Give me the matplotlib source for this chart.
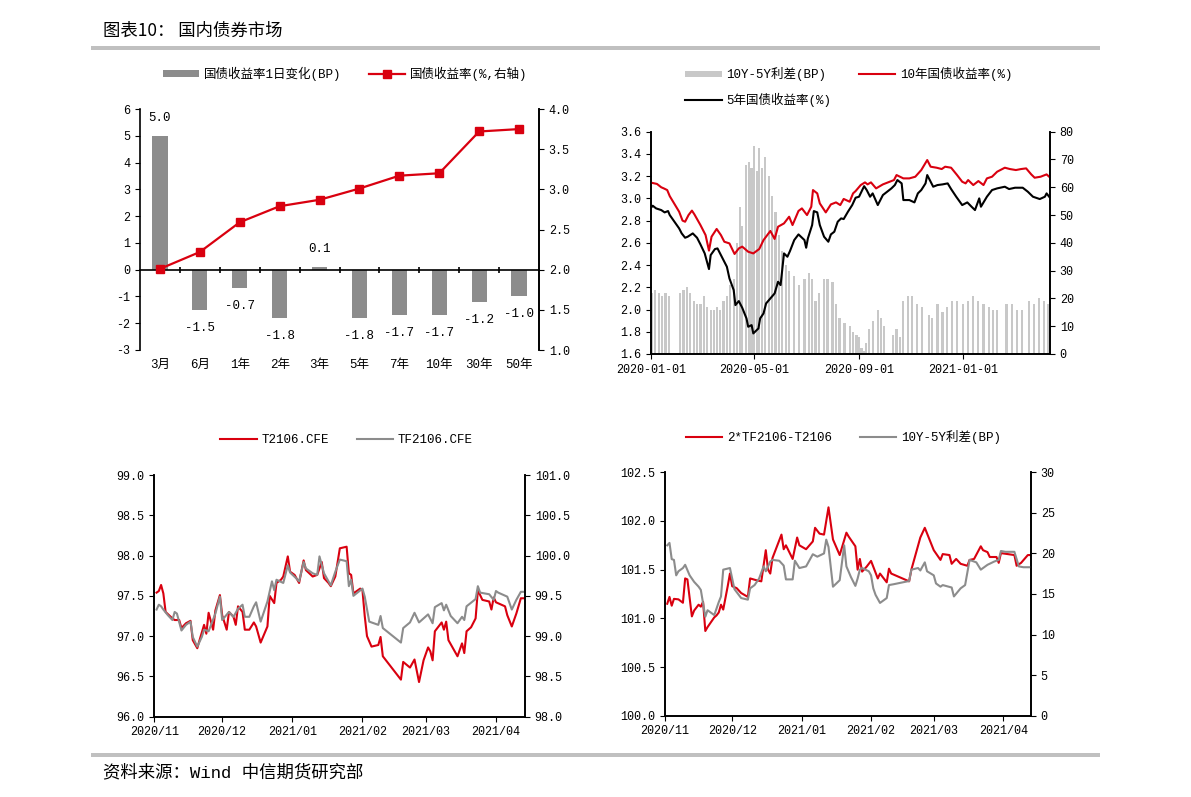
import numpy as np
import pandas as pd
import matplotlib
matplotlib.use('Agg')
import matplotlib.pyplot as plt
import matplotlib.dates as mdates
from matplotlib.patches import Rectangle

plt.rcParams['font.family'] = ['Liberation Mono', 'Noto Sans CJK SC']
plt.rcParams['axes.unicode_minus'] = False
plt.rcParams['font.size'] = 8.5
plt.rcParams['axes.linewidth'] = 1.2
plt.rcParams['xtick.major.size'] = 3.5
plt.rcParams['ytick.major.size'] = 3.5

RED = '#d9000f'
GRAY = '#8c8c8c'
LGRAY = '#c8c8c8'

# ---- chart 1: yield curve ----
tenors = ['3月', '6月', '1年', '2年', '3年', '5年', '7年', '10年', '30年', '50年']
chg_bp = [5.0, -1.5, -0.7, -1.8, 0.1, -1.8, -1.7, -1.7, -1.2, -1.0]
yld = [2.01, 2.22, 2.59, 2.79, 2.87, 3.01, 3.17, 3.20, 3.72, 3.75]

# ---- chart 2: 10Y / 5Y yields and spread ----
y10_dates = ['2020-01-02', '2020-01-08', '2020-01-13', '2020-01-16', '2020-01-20', '2020-01-23',
             '2020-02-03', '2020-02-07', '2020-02-10', '2020-02-14', '2020-02-18', '2020-02-21', '2020-02-28',
             '2020-03-05', '2020-03-09', '2020-03-12', '2020-03-18', '2020-03-23', '2020-03-27',
             '2020-04-02', '2020-04-08', '2020-04-13', '2020-04-17', '2020-04-24', '2020-04-30',
             '2020-05-07', '2020-05-12', '2020-05-20', '2020-05-25', '2020-05-29',
             '2020-06-05', '2020-06-11', '2020-06-15', '2020-06-22', '2020-06-26',
             '2020-07-02', '2020-07-07', '2020-07-09', '2020-07-14', '2020-07-17', '2020-07-24', '2020-07-30',
             '2020-08-05', '2020-08-10', '2020-08-14', '2020-08-21', '2020-08-25', '2020-08-28',
             '2020-09-03', '2020-09-08', '2020-09-11', '2020-09-15', '2020-09-21', '2020-09-29',
             '2020-10-12', '2020-10-15', '2020-10-19', '2020-10-23', '2020-10-30',
             '2020-11-06', '2020-11-13', '2020-11-20', '2020-11-24',
             '2020-12-01', '2020-12-07', '2020-12-11', '2020-12-18', '2020-12-25', '2020-12-31',
             '2021-01-04', '2021-01-07', '2021-01-13', '2021-01-19', '2021-01-25', '2021-01-29',
             '2021-02-04', '2021-02-10', '2021-02-19', '2021-02-25',
             '2021-03-04', '2021-03-10', '2021-03-16', '2021-03-22', '2021-03-26',
             '2021-04-02', '2021-04-09', '2021-04-12']
y10 = [3.14, 3.13, 3.10, 3.09, 3.075, 3.02,
       2.88, 2.80, 2.79, 2.85, 2.89, 2.855, 2.76,
       2.67, 2.53, 2.655, 2.725, 2.67, 2.61,
       2.595, 2.50, 2.55, 2.566, 2.52, 2.505,
       2.545, 2.625, 2.707, 2.635, 2.745,
       2.775, 2.835, 2.76, 2.887, 2.91,
       2.85, 2.925, 3.075, 3.045, 2.955, 2.874, 2.946,
       2.964, 2.94, 2.995, 2.97, 3.045, 3.066,
       3.12, 3.144, 3.126, 3.144, 3.09, 3.126,
       3.165, 3.21, 3.195, 3.18, 3.18,
       3.195, 3.255, 3.345, 3.285,
       3.276, 3.264, 3.285, 3.276, 3.21, 3.15,
       3.135, 3.165, 3.12, 3.156, 3.12, 3.18,
       3.195, 3.24, 3.276, 3.264,
       3.255, 3.264, 3.27, 3.216, 3.186,
       3.195, 3.216, 3.195]

y5_dates = ['2020-01-02', '2020-01-03', '2020-01-07', '2020-01-13', '2020-01-17', '2020-01-21', '2020-01-23',
            '2020-02-03', '2020-02-06', '2020-02-10', '2020-02-13', '2020-02-19', '2020-02-24', '2020-02-28',
            '2020-03-04', '2020-03-09', '2020-03-11', '2020-03-16', '2020-03-19', '2020-03-24', '2020-03-30',
            '2020-04-02', '2020-04-07', '2020-04-09', '2020-04-13', '2020-04-17', '2020-04-22', '2020-04-24',
            '2020-04-28', '2020-04-30',
            '2020-05-06', '2020-05-08', '2020-05-12', '2020-05-15', '2020-05-20', '2020-05-25', '2020-05-29',
            '2020-06-01', '2020-06-05', '2020-06-09', '2020-06-12', '2020-06-17', '2020-06-22', '2020-06-29',
            '2020-07-01', '2020-07-03', '2020-07-08', '2020-07-10', '2020-07-14', '2020-07-17', '2020-07-22',
            '2020-07-27', '2020-07-30',
            '2020-08-03', '2020-08-07', '2020-08-11', '2020-08-14', '2020-08-19', '2020-08-24', '2020-08-28',
            '2020-09-01', '2020-09-07', '2020-09-10', '2020-09-14', '2020-09-17', '2020-09-23', '2020-09-29',
            '2020-10-09', '2020-10-13', '2020-10-16', '2020-10-21', '2020-10-23', '2020-10-30',
            '2020-11-05', '2020-11-09', '2020-11-13', '2020-11-18', '2020-11-20', '2020-11-24', '2020-11-27',
            '2020-12-02', '2020-12-08', '2020-12-14', '2020-12-18', '2020-12-24', '2020-12-31',
            '2021-01-06', '2021-01-11', '2021-01-15', '2021-01-20', '2021-01-22', '2021-01-29',
            '2021-02-04', '2021-02-10', '2021-02-19', '2021-02-24',
            '2021-03-03', '2021-03-12', '2021-03-18', '2021-03-24',
            '2021-04-01', '2021-04-07', '2021-04-09', '2021-04-12']
y5 = [2.925, 2.934, 2.91, 2.895, 2.874, 2.886, 2.85,
      2.73, 2.685, 2.646, 2.655, 2.685, 2.646, 2.586,
      2.505, 2.364, 2.49, 2.544, 2.55, 2.475, 2.385,
      2.28, 2.175, 2.04, 2.076, 2.016, 1.92, 1.845, 1.86, 1.785,
      1.83, 1.92, 1.965, 2.055, 2.10, 2.145, 2.25,
      2.22, 2.505, 2.475, 2.526, 2.625, 2.676, 2.625,
      2.556, 2.64, 2.76, 2.886, 2.874, 2.76, 2.655, 2.61, 2.676,
      2.70, 2.79, 2.82, 2.814, 2.88, 2.94, 3.006,
      3.015, 3.11, 3.075, 3.015, 3.045, 2.94, 3.03,
      3.09, 3.12, 3.165, 3.135, 2.985, 2.985,
      2.964, 3.045, 3.075, 3.135, 3.21, 3.15, 3.105,
      3.12, 3.126, 3.135, 3.084, 3.015, 2.94,
      2.964, 2.925, 2.895, 3.0, 2.925, 3.015,
      3.075, 3.09, 3.105, 3.084,
      3.096, 3.096, 3.06, 3.015,
      2.994, 3.015, 3.045, 3.015]

spread_dates = ['2020-01-02', '2020-01-06', '2020-01-10', '2020-01-14', '2020-01-18', '2020-01-22',
                '2020-02-04', '2020-02-08', '2020-02-12', '2020-02-16', '2020-02-20', '2020-02-24', '2020-02-28',
                '2020-03-03', '2020-03-07', '2020-03-11', '2020-03-15', '2020-03-18', '2020-03-22', '2020-03-26',
                '2020-03-30', '2020-04-03', '2020-04-07', '2020-04-11', '2020-04-14', '2020-04-17', '2020-04-21',
                '2020-04-25', '2020-04-28', '2020-05-01', '2020-05-04', '2020-05-07', '2020-05-10', '2020-05-14',
                '2020-05-18', '2020-05-22', '2020-05-26', '2020-05-30', '2020-06-03', '2020-06-07', '2020-06-11',
                '2020-06-17', '2020-06-23', '2020-06-29', '2020-07-04', '2020-07-08', '2020-07-12', '2020-07-16',
                '2020-07-22', '2020-07-26', '2020-08-01', '2020-08-05', '2020-08-09', '2020-08-15', '2020-08-21',
                '2020-08-25', '2020-08-29', '2020-09-01', '2020-09-04', '2020-09-07', '2020-09-09', '2020-09-13',
                '2020-09-17', '2020-09-23', '2020-09-27', '2020-09-30', '2020-10-11', '2020-10-15', '2020-10-19',
                '2020-10-23', '2020-10-28', '2020-11-02', '2020-11-08', '2020-11-14', '2020-11-22', '2020-11-26',
                '2020-12-02', '2020-12-08', '2020-12-13', '2020-12-19', '2020-12-25', '2021-01-01', '2021-01-07',
                '2021-01-13', '2021-01-19', '2021-01-25', '2021-01-31', '2021-02-05', '2021-02-10', '2021-02-21',
                '2021-02-27', '2021-03-05', '2021-03-11', '2021-03-19', '2021-03-25', '2021-03-31', '2021-04-06',
                '2021-04-11']
spread_bp = [22, 23, 22, 21, 22, 21,
             22, 23, 24, 22, 19, 18, 18,
             21, 17, 16, 16, 17, 16, 19, 21,
             25, 27, 40, 53, 46, 68, 69, 67,
             75, 66, 74, 67, 71, 64, 57, 51, 43,
             37, 32, 30, 28, 25, 27,
             29, 27, 19, 22, 27, 27,
             26, 18, 13, 11, 10, 8, 7,
             6, 2, 1, 4, 9, 12, 16, 13, 10,
             7, 9, 6, 19, 21,
             21, 18, 17, 14, 13,
             18, 15, 17, 19, 19,
             18, 19, 21, 19, 18, 17,
             16, 16,
             18, 18, 16, 16, 19, 18, 20, 19, 18]
top_ticks = ['2020-01-01', '2020-05-01', '2020-09-01', '2021-01-01']

# ---- chart 3: T2106 / TF2106 ----
t_dates = ['2020-11-02', '2020-11-03', '2020-11-04', '2020-11-05', '2020-11-06', '2020-11-09', '2020-11-10',
           '2020-11-12', '2020-11-13', '2020-11-15', '2020-11-17', '2020-11-18', '2020-11-20', '2020-11-21',
           '2020-11-23', '2020-11-24', '2020-11-25', '2020-11-27', '2020-11-28', '2020-11-30',
           '2020-12-01', '2020-12-03', '2020-12-04', '2020-12-06', '2020-12-07', '2020-12-08', '2020-12-10',
           '2020-12-11', '2020-12-13', '2020-12-15', '2020-12-16', '2020-12-18', '2020-12-21', '2020-12-22',
           '2020-12-24', '2020-12-25', '2020-12-27', '2020-12-28', '2020-12-30', '2020-12-31',
           '2021-01-02', '2021-01-04', '2021-01-06', '2021-01-07', '2021-01-10', '2021-01-12', '2021-01-14',
           '2021-01-15', '2021-01-17', '2021-01-18', '2021-01-20', '2021-01-22', '2021-01-25', '2021-01-26',
           '2021-01-27', '2021-01-28', '2021-01-31', '2021-02-01', '2021-02-02', '2021-02-03',
           '2021-02-05', '2021-02-08', '2021-02-09', '2021-02-10', '2021-02-18', '2021-02-19', '2021-02-22',
           '2021-02-24', '2021-02-26', '2021-02-28', '2021-03-02', '2021-03-03', '2021-03-04', '2021-03-05',
           '2021-03-08', '2021-03-09', '2021-03-10', '2021-03-11', '2021-03-13', '2021-03-15',
           '2021-03-17', '2021-03-18', '2021-03-19', '2021-03-21', '2021-03-23', '2021-03-24', '2021-03-26',
           '2021-03-29', '2021-03-30', '2021-03-31', '2021-04-01', '2021-04-05', '2021-04-06', '2021-04-08',
           '2021-04-10', '2021-04-12', '2021-04-13']
t2106 = [97.54, 97.56, 97.635, 97.53, 97.30, 97.22, 97.20, 97.20, 97.10, 97.16,
         97.19, 96.95, 96.85, 96.95, 97.14, 97.03, 97.29, 97.08, 97.32, 97.51,
         97.26, 97.08, 97.30, 97.24, 97.14, 97.37, 97.30, 97.08, 97.08, 97.17,
         97.12, 96.92, 97.12, 97.50, 97.41, 97.66, 97.70, 97.74, 97.99, 97.80,
         97.76, 97.66, 97.94, 97.82, 97.74, 97.76, 97.92, 97.72, 97.66, 97.62,
         97.74, 98.09, 98.11, 97.78, 97.76, 97.53, 97.59, 97.57, 97.25, 97.00,
         96.87, 96.89, 96.99, 96.75, 96.46, 96.68, 96.61, 96.71, 96.43, 96.70,
         96.86, 96.81, 96.70, 97.06, 97.17, 97.08, 97.18, 96.95, 96.85, 96.75,
         96.91, 96.79, 97.06, 97.11, 97.22, 97.57, 97.45, 97.43, 97.33, 97.48,
         97.42, 97.37, 97.26, 97.12, 97.28, 97.47, 97.47]

tf_dates = ['2020-11-02', '2020-11-03', '2020-11-04', '2020-11-05', '2020-11-07', '2020-11-09', '2020-11-10',
            '2020-11-11', '2020-11-13', '2020-11-15', '2020-11-17', '2020-11-18', '2020-11-20', '2020-11-22',
            '2020-11-23', '2020-11-25', '2020-11-28', '2020-11-30', '2020-12-01', '2020-12-04',
            '2020-12-06', '2020-12-08', '2020-12-10', '2020-12-11', '2020-12-13', '2020-12-15', '2020-12-16',
            '2020-12-18', '2020-12-21', '2020-12-23', '2020-12-24', '2020-12-25', '2020-12-28', '2020-12-30',
            '2020-12-31', '2021-01-03', '2021-01-04', '2021-01-06', '2021-01-07', '2021-01-10',
            '2021-01-12', '2021-01-13', '2021-01-15', '2021-01-18', '2021-01-20', '2021-01-22', '2021-01-25',
            '2021-01-26', '2021-01-27', '2021-01-28', '2021-02-01', '2021-02-02', '2021-02-04', '2021-02-08',
            '2021-02-09', '2021-02-10', '2021-02-18', '2021-02-19', '2021-02-22', '2021-02-24',
            '2021-02-26', '2021-03-02', '2021-03-04', '2021-03-05', '2021-03-08', '2021-03-09', '2021-03-10',
            '2021-03-12', '2021-03-15', '2021-03-17', '2021-03-18', '2021-03-19', '2021-03-23', '2021-03-24',
            '2021-03-25', '2021-03-29', '2021-03-31', '2021-04-01', '2021-04-02', '2021-04-06',
            '2021-04-08', '2021-04-10', '2021-04-12', '2021-04-13']
tf2106 = [99.33, 99.39, 99.37, 99.33, 99.26, 99.20, 99.30, 99.28, 99.07, 99.14,
          99.18, 98.99, 98.87, 98.99, 99.08, 99.06, 99.28, 99.49, 99.20, 99.30,
          99.24, 99.34, 99.39, 99.24, 99.24, 99.37, 99.42, 99.18, 99.43, 99.68,
          99.57, 99.70, 99.66, 99.88, 99.79, 99.71, 99.68, 99.92, 99.84, 99.78,
          99.76, 99.99, 99.78, 99.63, 99.80, 99.95, 99.93, 99.62, 99.70, 99.50,
          99.59, 99.49, 99.18, 99.14, 99.25, 99.10, 98.92, 99.10, 99.17, 99.29,
          99.17, 99.27, 99.16, 99.36, 99.41, 99.32, 99.39, 99.25, 99.16, 99.24,
          99.20, 99.37, 99.46, 99.62, 99.54, 99.52, 99.45, 99.56, 99.54, 99.49,
          99.33, 99.45, 99.55, 99.55]

# ---- chart 4: 2*TF-T vs 10Y-5Y spread ----
bf_dates = ['2020-11-02', '2020-11-03', '2020-11-04', '2020-11-05', '2020-11-07', '2020-11-09', '2020-11-10',
            '2020-11-11', '2020-11-13', '2020-11-14', '2020-11-16', '2020-11-17', '2020-11-18', '2020-11-19',
            '2020-11-20', '2020-11-23', '2020-11-24', '2020-11-25', '2020-11-26', '2020-11-27',
            '2020-11-29', '2020-11-30', '2020-12-01', '2020-12-03', '2020-12-05', '2020-12-08', '2020-12-09',
            '2020-12-12', '2020-12-14', '2020-12-16', '2020-12-17', '2020-12-18', '2020-12-19', '2020-12-21',
            '2020-12-23', '2020-12-24', '2020-12-25', '2020-12-28', '2020-12-30', '2020-12-31',
            '2021-01-03', '2021-01-06', '2021-01-07', '2021-01-09', '2021-01-11', '2021-01-13', '2021-01-15',
            '2021-01-18', '2021-01-21', '2021-01-22', '2021-01-25', '2021-01-26', '2021-01-27', '2021-01-28',
            '2021-01-30', '2021-02-01', '2021-02-04', '2021-02-05', '2021-02-08', '2021-02-09',
            '2021-02-10', '2021-02-18', '2021-02-19', '2021-02-23', '2021-02-25', '2021-03-01', '2021-03-04',
            '2021-03-05', '2021-03-08', '2021-03-09', '2021-03-11', '2021-03-13', '2021-03-16', '2021-03-17',
            '2021-03-19', '2021-03-22', '2021-03-23', '2021-03-25', '2021-03-26', '2021-03-29',
            '2021-03-30', '2021-03-31', '2021-04-06', '2021-04-07', '2021-04-09', '2021-04-12', '2021-04-13']
bf_val = [101.15, 101.22, 101.13, 101.20, 101.195, 101.16, 101.41, 101.40, 101.02, 101.08,
          101.14, 101.12, 101.17, 100.87, 100.91, 101.01, 101.03, 101.06, 101.14, 101.09,
          101.33, 101.46, 101.33, 101.31, 101.26, 101.22, 101.41, 101.39, 101.38, 101.70,
          101.50, 101.46, 101.62, 101.74, 101.86, 101.71, 101.75, 101.61, 101.83, 101.75,
          101.71, 101.79, 101.93, 101.87, 101.86, 102.14, 101.81, 101.65, 101.88, 101.84,
          101.74, 101.50, 101.61, 101.48, 101.53, 101.59, 101.41, 101.46, 101.37, 101.51,
          101.46, 101.38, 101.50, 101.83, 101.93, 101.70, 101.60, 101.66, 101.65, 101.56,
          101.61, 101.56, 101.54, 101.60, 101.61, 101.74, 101.70, 101.68, 101.63, 101.63,
          101.57, 101.67, 101.65, 101.54, 101.57, 101.65, 101.65]

sp_dates = ['2020-11-02', '2020-11-03', '2020-11-04', '2020-11-05', '2020-11-06', '2020-11-07', '2020-11-08',
            '2020-11-09', '2020-11-10', '2020-11-12', '2020-11-14', '2020-11-16', '2020-11-17', '2020-11-19',
            '2020-11-20', '2020-11-23', '2020-11-25', '2020-11-26', '2020-11-27', '2020-11-30',
            '2020-12-02', '2020-12-05', '2020-12-08', '2020-12-09', '2020-12-11', '2020-12-13', '2020-12-15',
            '2020-12-16', '2020-12-18', '2020-12-19', '2020-12-22', '2020-12-24', '2020-12-25', '2020-12-28',
            '2020-12-29', '2020-12-31', '2021-01-03', '2021-01-06', '2021-01-08', '2021-01-11',
            '2021-01-12', '2021-01-13', '2021-01-15', '2021-01-18', '2021-01-20', '2021-01-21', '2021-01-23',
            '2021-01-25', '2021-01-26', '2021-01-27', '2021-01-28', '2021-01-31', '2021-02-01', '2021-02-02',
            '2021-02-03', '2021-02-05', '2021-02-08', '2021-02-09', '2021-02-11', '2021-02-18',
            '2021-02-19', '2021-02-22', '2021-02-23', '2021-02-25', '2021-02-26', '2021-03-01', '2021-03-02',
            '2021-03-04', '2021-03-05', '2021-03-09', '2021-03-10', '2021-03-13', '2021-03-15', '2021-03-17',
            '2021-03-20', '2021-03-22', '2021-03-24', '2021-03-25', '2021-03-28', '2021-03-30',
            '2021-03-31', '2021-04-02', '2021-04-06', '2021-04-08', '2021-04-10', '2021-04-13']
sp_val = [21.0, 21.3, 19.3, 19.2, 17.3, 17.8, 18.0, 18.2, 18.6, 17.3,
          16.5, 15.9, 15.5, 12.2, 13.0, 12.4, 14.0, 14.7, 18.0, 18.2,
          15.6, 14.5, 14.3, 15.7, 16.1, 16.9, 18.4, 17.8, 19.0, 19.2,
          19.1, 18.5, 16.8, 16.8, 19.1, 18.2, 18.4, 19.9, 19.6, 20.0,
          21.7, 20.8, 15.9, 16.7, 21.0, 18.4, 17.1, 16.0, 16.9, 18.0,
          18.2, 17.8, 17.3, 15.7, 14.9, 13.9, 14.5, 16.1, 16.2, 16.6,
          18.0, 18.2, 17.9, 18.9, 17.8, 17.3, 16.3, 15.9, 16.1, 15.8,
          14.7, 15.7, 16.1, 19.2, 18.9, 18.0, 18.4, 18.6, 19.0, 19.2,
          20.3, 20.2, 20.2, 18.4, 18.3, 18.3]
bottom_ticks = ['2020-11-01', '2020-12-01', '2021-01-01', '2021-02-01', '2021-03-01', '2021-04-01']

fig = plt.figure(figsize=(11.91, 7.97), dpi=100)
W, H = 1191, 797

# header / footer
fig.text(103 / W, 1 - 31 / H, '图表10： 国内债券市场', family=['Noto Sans CJK SC'], fontsize=12.5, va='center')
fig.add_artist(Rectangle((91 / W, 1 - 50 / H), 1009 / W, 4 / H, transform=fig.transFigure, color='#c0c0c0', lw=0))
fig.add_artist(Rectangle((91 / W, 1 - 757 / H), 1009 / W, 4 / H, transform=fig.transFigure, color='#c0c0c0', lw=0))
fig.text(103 / W, 1 - 772 / H, '资料来源：Wind 中信期货研究部', fontsize=12.5, va='center')

leg_kw = dict(loc='center', frameon=False, fontsize=9, handlelength=2.9, handleheight=0.45,
              handletextpad=0.4, columnspacing=2.2)

# ---------------- chart 1 ----------------
ax1 = fig.add_axes([140 / W, 1 - 350 / H, 399 / W, 241 / H])
x = np.arange(len(tenors))
bars = ax1.bar(x, chg_bp, width=0.38, color=GRAY)
ax1.set_xlim(-0.5, len(tenors) - 0.5)
ax1.set_ylim(-3, 6)
ax1.set_yticks(range(-3, 7))
ax1.spines['top'].set_visible(False)
ax1.spines['bottom'].set_position(('data', 0))
ax1.set_xticks(x)
ax1.set_xticklabels(tenors, fontsize=9)
ax1.tick_params(axis='x', which='major', length=0, pad=64)
ax1.set_xticks(x[:-1] + 0.5, minor=True)
ax1.tick_params(axis='x', which='minor', length=5, direction='inout', width=1.2)
for xi, v in zip(x, chg_bp):
    ax1.annotate(f'{v:.1f}', (xi, v), xytext=(0, 13 if v > 0 else -13), textcoords='offset points',
                 ha='center', va='center', fontsize=9)
ax1r = ax1.twinx()
line1, = ax1r.plot(x, yld, color=RED, lw=1.6, marker='s', ms=6)
ax1r.set_ylim(1.0, 4.0)
ax1r.set_yticks(np.arange(1.0, 4.01, 0.5))
ax1r.yaxis.set_major_formatter('{x:.1f}')
for s in ['top', 'bottom', 'left']:
    ax1r.spines[s].set_visible(False)
fig.legend([bars, line1], ['国债收益率1日变化(BP)', '国债收益率(%,右轴)'], ncol=2,
           bbox_to_anchor=(345 / W, 1 - 74 / H), **leg_kw)

# ---------------- chart 2 ----------------
ax2 = fig.add_axes([651 / W, 1 - 354 / H, 399 / W, 222.3 / H])
bars2 = ax2.bar(pd.to_datetime(spread_dates), spread_bp, width=2.6, color=LGRAY, lw=0)
ax2.set_ylim(0, 80)
ax2.set_yticks(range(0, 81, 10))
ax2l = ax2.twinx()
ax2.yaxis.tick_right()
ax2l.yaxis.tick_left()
l10, = ax2l.plot(pd.to_datetime(y10_dates), y10, color=RED, lw=1.5)
l5, = ax2l.plot(pd.to_datetime(y5_dates), y5, color='black', lw=1.5)
ax2l.set_ylim(1.6, 3.6)
ax2l.set_yticks(np.arange(1.6, 3.61, 0.2))
ax2l.yaxis.set_major_formatter('{x:.1f}')
ax2.set_xlim(pd.Timestamp('2020-01-01'), pd.Timestamp('2021-04-13'))
ax2.set_xticks(pd.to_datetime(top_ticks))
ax2.xaxis.set_major_formatter(mdates.DateFormatter('%Y-%m-%d'))
for a in (ax2, ax2l):
    a.spines['top'].set_visible(False)
fig.legend([bars2, l5, l10], ['10Y-5Y利差(BP)', '5年国债收益率(%)', '10年国债收益率(%)'], ncol=2,
           bbox_to_anchor=(849 / W, 1 - 87 / H), labelspacing=0.9, **leg_kw)

# ---------------- chart 3 ----------------
ax3 = fig.add_axes([154.3 / W, 1 - 716.7 / H, 370.7 / W, 241.7 / H])
lt, = ax3.plot(pd.to_datetime(t_dates), t2106, color=RED, lw=1.5)
ax3.set_ylim(96.0, 99.0)
ax3.set_yticks(np.arange(96.0, 99.01, 0.5))
ax3.yaxis.set_major_formatter('{x:.1f}')
ax3r = ax3.twinx()
ltf, = ax3r.plot(pd.to_datetime(tf_dates), tf2106, color=GRAY, lw=1.5)
ax3r.set_ylim(98.0, 101.0)
ax3r.set_yticks(np.arange(98.0, 101.01, 0.5))
ax3r.yaxis.set_major_formatter('{x:.1f}')
ax3.set_xlim(pd.Timestamp('2020-11-01'), pd.Timestamp('2021-04-13 20:00'))
ax3.set_xticks(pd.to_datetime(bottom_ticks))
ax3.xaxis.set_major_formatter(mdates.DateFormatter('%Y/%m'))
for a in (ax3, ax3r):
    a.spines['top'].set_visible(False)
fig.legend([lt, ltf], ['T2106.CFE', 'TF2106.CFE'], ncol=2,
           bbox_to_anchor=(346.5 / W, 1 - 440 / H), **leg_kw)

# ---------------- chart 4 ----------------
ax4 = fig.add_axes([665 / W, 1 - 715.7 / H, 366 / W, 243.4 / H])
lbf, = ax4.plot(pd.to_datetime(bf_dates), bf_val, color=RED, lw=1.5)
ax4.set_ylim(100.0, 102.5)
ax4.set_yticks(np.arange(100.0, 102.51, 0.5))
ax4.yaxis.set_major_formatter('{x:.1f}')
ax4r = ax4.twinx()
lsp, = ax4r.plot(pd.to_datetime(sp_dates), sp_val, color=GRAY, lw=1.5)
ax4r.set_ylim(0, 30)
ax4r.set_yticks(range(0, 31, 5))
ax4.set_xlim(pd.Timestamp('2020-11-01'), pd.Timestamp('2021-04-13 10:00'))
ax4.set_xticks(pd.to_datetime(bottom_ticks))
ax4.xaxis.set_major_formatter(mdates.DateFormatter('%Y/%m'))
for a in (ax4, ax4r):
    a.spines['top'].set_visible(False)
fig.legend([lbf, lsp], ['2*TF2106-T2106', '10Y-5Y利差(BP)'], ncol=2,
           bbox_to_anchor=(843.5 / W, 1 - 437 / H), **leg_kw)

fig.savefig('out.png', dpi=100)
